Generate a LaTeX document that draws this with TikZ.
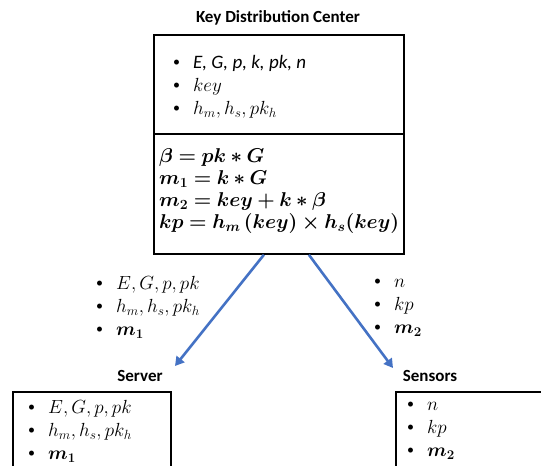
\RequirePackage{fix-cm}
\documentclass[tikz,border=0pt]{standalone}
\usepackage{amsmath}
\usepackage{bm}
\usepackage{fontspec}
\setmainfont{Carlito}
\usetikzlibrary{arrows.meta}
\definecolor{arrowblue}{RGB}{68,114,196}
\tikzset{
  x=1pt, y=-1pt,
  title/.style={font=\fontsize{17}{19}\selectfont\bfseries, inner sep=0pt},
  frame/.style={draw=black, line width=1.8pt, inner sep=0pt, anchor=north west},
  bullets/.style={font=\fontsize{19}{23}\selectfont, align=left, anchor=north west, inner sep=0pt},
  link/.style={draw=arrowblue, line width=2.6pt, -{Triangle[length=9pt,width=10pt]}}
}
% a small raised bullet followed by the item gap
\newcommand{\bl}{\raisebox{1.5pt}{\fontsize{14}{14}\selectfont\textbullet}\hspace{13pt}}
\begin{document}
\begin{tikzpicture}
\useasboundingbox (0,0) rectangle (541,466);
\clip (0,0) rectangle (541,466);
% Key Distribution Center
\node[title] (kdct) at (278,18) {Key Distribution Center};
\node[frame, minimum width=250pt, minimum height=99pt] (kdctop) at (153,34) {};
\node[frame, minimum width=250pt, minimum height=120pt] (kdcbot) at (153,133) {};
\node[bullets] (kdclist) at (173,55) {\bl\textit{E, G, p, k, pk, n}\\ \bl$key$\\ \bl$h_m, h_s, pk_h$};
\node[anchor=north west, inner sep=0pt, align=left, font=\fontsize{20}{22.3}\selectfont] (kdceq) at (159,148)
 {$\bm{\beta = pk \ast G}$\\ $\bm{m_1 = k \ast G}$\\ $\bm{m_2 = key + k \ast \beta}$\\ $\bm{kp = h_m\,(key) \times h_s(key)}$};
% values handed out
\node[bullets] (srvmsg) at (96,276) {\bl$E, G, p, pk$\\ \bl$h_m, h_s, pk_h$\\ \bl$\bm{m_1}$};
\node[bullets] (snsmsg) at (374,279) {\bl$n$\\ \bl$kp$\\ \bl$\bm{m_2}$};
% Server
\node[title] (srvt) at (140,376) {Server};
\node[frame, minimum width=158pt, minimum height=90pt] (srv) at (12,391) {};
\node[bullets] (srvlist) at (28,400) {\bl$E, G, p, pk$\\ \bl$h_m, h_s, pk_h$\\ \bl$\bm{m_1}$};
% Sensors
\node[title] (snst) at (430,376) {Sensors};
\node[frame, minimum width=160pt, minimum height=90pt] (sns) at (395,391) {};
\node[bullets] (snslist) at (407,402) {\bl$n$\\ \bl$kp$\\ \bl$\bm{m_2}$};
% distribution arrows
\coordinate (srvend) at (175,366);
\coordinate (snsend) at (393,368);
\draw[link] ([xshift=-15pt]kdcbot.south) -- (srvend);
\draw[link] ([xshift=30pt]kdcbot.south) -- (snsend);
\end{tikzpicture}
\end{document}
